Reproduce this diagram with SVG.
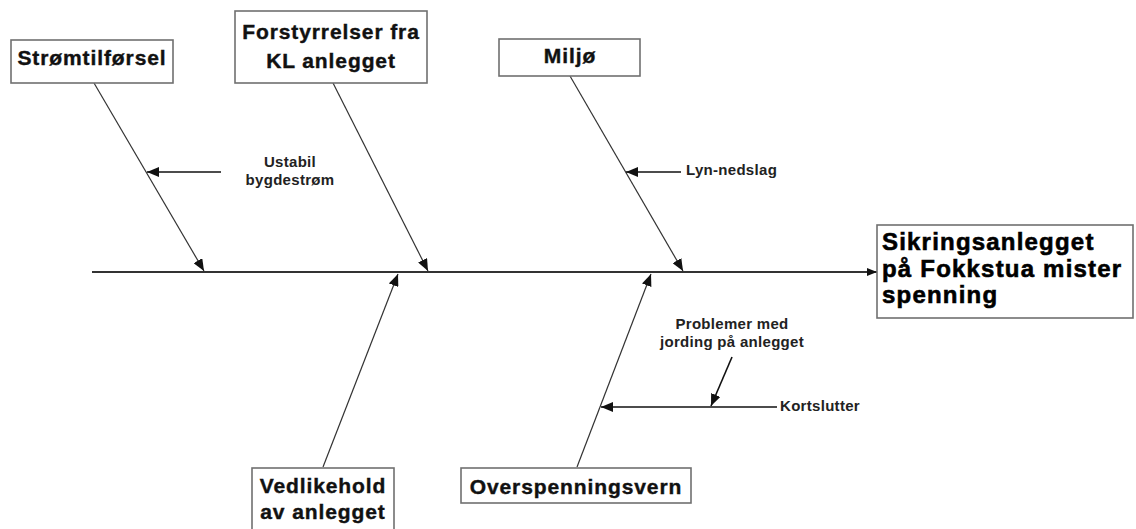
<svg xmlns="http://www.w3.org/2000/svg" width="1136" height="529" viewBox="0 0 1136 529">
  <defs>
    <marker id="head" viewBox="0 0 12 10" refX="12" refY="5" markerWidth="12" markerHeight="10" markerUnits="userSpaceOnUse" orient="auto">
      <path d="M0,0 L12,5 L0,10 Z" fill="#111"/>
    </marker>
    <marker id="headSmall" viewBox="0 0 10 8" refX="10" refY="4" markerWidth="10" markerHeight="8" markerUnits="userSpaceOnUse" orient="auto">
      <path d="M0,0 L10,4 L0,8 Z" fill="#111"/>
    </marker>
  </defs>
  <style>
    .box { fill: #ffffff; stroke: #707070; stroke-width: 1.6; }
    .cause { font-family: "Liberation Sans", Arial, sans-serif; font-weight: bold; font-size: 21px; letter-spacing: 0.9px; fill: #111; stroke: #111; stroke-width: 0.4; text-anchor: middle; }
    .effect { font-family: "Liberation Sans", Arial, sans-serif; font-weight: bold; font-size: 24px; letter-spacing: 1.2px; fill: #000; stroke: #000; stroke-width: 0.6; }
    .note { font-family: "Liberation Sans", Arial, sans-serif; font-weight: bold; font-size: 15px; letter-spacing: 0.3px; fill: #222; }
    .spine { stroke: #333; stroke-width: 1.8; fill: none; }
    .bone { stroke: #333; stroke-width: 1.2; fill: none; }
    .sub { stroke: #111; stroke-width: 1.6; fill: none; }
  </style>

  <rect width="1136" height="529" fill="#ffffff"/>

  <!-- connectors -->
  <g id="connectors">
    <line class="spine" x1="92" y1="272" x2="877" y2="272" marker-end="url(#headSmall)"/>
    <line class="bone" x1="94" y1="83" x2="204" y2="271" marker-end="url(#head)"/>
    <line class="bone" x1="333" y1="83" x2="428" y2="271" marker-end="url(#head)"/>
    <line class="bone" x1="570" y1="76" x2="683" y2="271" marker-end="url(#head)"/>
    <line class="bone" x1="323" y1="467" x2="398" y2="274" marker-end="url(#head)"/>
    <line class="bone" x1="577" y1="467" x2="651" y2="274" marker-end="url(#head)"/>
    <line class="sub" x1="221" y1="172" x2="147" y2="172" marker-end="url(#head)"/>
    <line class="sub" x1="681" y1="172" x2="626" y2="172" marker-end="url(#head)"/>
    <line class="sub" x1="777" y1="407" x2="601" y2="407" marker-end="url(#head)"/>
    <line class="sub" x1="732" y1="357" x2="711" y2="406" marker-end="url(#head)"/>
  </g>

  <!-- cause categories -->
  <g id="stromtilforsel">
    <rect class="box" x="11" y="40" width="162" height="43"/>
    <text class="cause" x="92" y="65">Strømtilførsel</text>
  </g>
  <g id="forstyrrelser">
    <rect class="box" x="235" y="11" width="192" height="72"/>
    <text class="cause" x="331" y="39">Forstyrrelser fra</text>
    <text class="cause" x="331" y="68">KL anlegget</text>
  </g>
  <g id="miljo">
    <rect class="box" x="499" y="39" width="141" height="37"/>
    <text class="cause" x="570" y="63">Miljø</text>
  </g>
  <g id="vedlikehold">
    <rect class="box" x="252" y="468" width="142" height="70"/>
    <text class="cause" x="323" y="493">Vedlikehold</text>
    <text class="cause" x="323" y="519">av anlegget</text>
  </g>
  <g id="overspenningsvern">
    <rect class="box" x="461" y="468" width="230" height="35"/>
    <text class="cause" x="576" y="494">Overspenningsvern</text>
  </g>

  <!-- effect -->
  <g id="effekt">
    <rect class="box" x="877" y="225" width="256" height="93"/>
    <text class="effect" x="882" y="250">Sikringsanlegget</text>
    <text class="effect" x="882" y="277">på Fokkstua mister</text>
    <text class="effect" x="882" y="303">spenning</text>
  </g>

  <!-- sub-causes -->
  <g id="ustabil">
    <text class="note" x="290" y="167" text-anchor="middle">Ustabil</text>
    <text class="note" x="290" y="185" text-anchor="middle">bygdestrøm</text>
  </g>
  <g id="lyn">
    <text class="note" x="686" y="175">Lyn-nedslag</text>
  </g>
  <g id="jording">
    <text class="note" x="732" y="329" text-anchor="middle">Problemer med</text>
    <text class="note" x="732" y="347" text-anchor="middle">jording på anlegget</text>
  </g>
  <g id="kortslutter">
    <text class="note" x="780" y="411">Kortslutter</text>
  </g>
</svg>
